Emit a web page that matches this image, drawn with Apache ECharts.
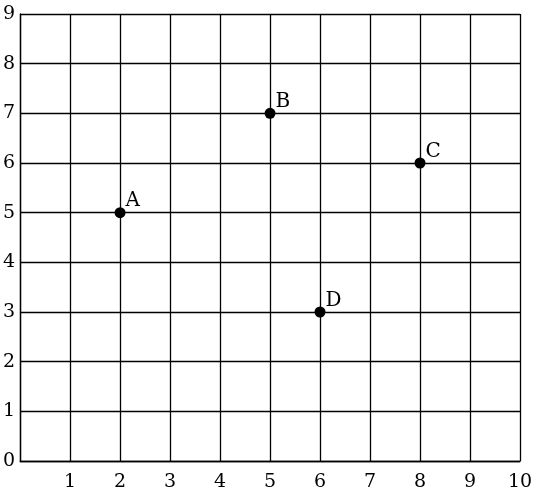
<!DOCTYPE html>
<html><head><meta charset="utf-8">
<script src="https://cdn.jsdelivr.net/npm/echarts@6/dist/echarts.min.js"></script>
<style>html,body{margin:0;padding:0;background:#fff}#c{width:543px;height:492px}</style>
</head><body><div id="c"></div>
<script>
const pointNames = ['A', 'B', 'C', 'D'];
const xValues = [2, 5, 8, 6];
const yValues = [5, 7, 6, 3];
const xTicks = [1, 2, 3, 4, 5, 6, 7, 8, 9, 10];
const yTicks = [0, 1, 2, 3, 4, 5, 6, 7, 8, 9];

const font = 'DejaVu Serif';
const chart = echarts.init(document.getElementById('c'));
chart.setOption({
  animation: false,
  grid: {left: 18, right: 23, top: 14, bottom: 28, containLabel: false},
  xAxis: {
    type: 'value', min: 0, max: 10, interval: 1,
    axisLine: {show: true, lineStyle: {color: '#000', width: 1.3}},
    axisTick: {show: false},
    splitLine: {show: true, lineStyle: {color: '#000', width: 1.3}},
    axisLabel: {
      color: '#000', fontFamily: font, fontSize: 19, margin: 12,
      formatter: v => xTicks.includes(v) ? String(v) : ''
    }
  },
  yAxis: {
    type: 'value', min: 0, max: 9, interval: 1,
    axisLine: {show: true, lineStyle: {color: '#000', width: 1.3}},
    axisTick: {show: false},
    splitLine: {show: true, lineStyle: {color: '#000', width: 1.3}},
    axisLabel: {
      color: '#000', fontFamily: font, fontSize: 19, margin: 5,
      formatter: v => yTicks.includes(v) ? String(v) : ''
    }
  },
  series: [{
    type: 'scatter',
    symbolSize: 11,
    itemStyle: {color: '#000', opacity: 1},
    data: pointNames.map((n, i) => ({name: n, value: [xValues[i], yValues[i]]})),
    label: {
      show: true, formatter: '{b}', position: [11, -16], align: 'left', verticalAlign: 'top',
      color: '#000', fontFamily: font, fontSize: 20
    }
  }]
});
</script></body></html>
